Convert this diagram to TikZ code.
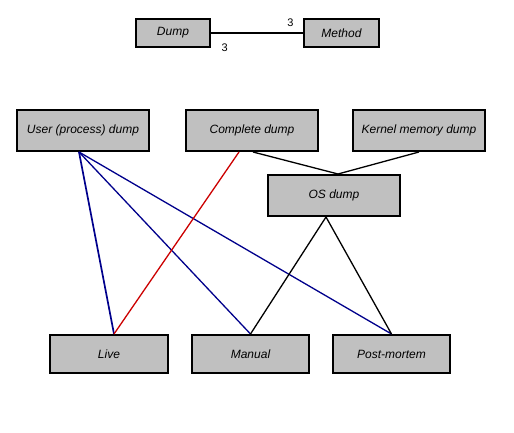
\documentclass[tikz,border=0pt]{standalone}
\usepackage{fontspec}
\setmainfont{Liberation Sans}
\usepackage{tikz}
\usetikzlibrary{positioning}

\definecolor{cajagris}{RGB}{192,192,192}
\definecolor{azulosc}{RGB}{0,0,140}
\definecolor{rojolin}{RGB}{204,0,0}

\tikzset{
  caja/.style={draw, rectangle, fill=cajagris, line width=2pt, inner sep=0pt,
    font=\fontsize{12}{14}\selectfont\itshape},
  linea/.style={line width=1.3pt},
}

\begin{document}
\begin{tikzpicture}[x=1pt, y=-1pt]
    % Fondo y margenes
    \fill[white] (0,0) rectangle (514,433);
    \useasboundingbox (0,0) rectangle (514,433);

    % Relacion Dump - Method
    \node (dump) [caja, minimum width=74pt, minimum height=28pt] at (173,33) {Dump};
    \node (method) [caja, minimum width=75pt, minimum height=28pt] at (341.5,33) {Method};
    \draw[linea] (dump) -- (method);
    \node (mult1) [below right=7pt and 7pt of dump.east, font=\fontsize{11}{12}\selectfont] {3};
    \node (mult2) [above left=3pt and 6pt of method.west, font=\fontsize{11}{12}\selectfont] {3};

    % Tipos de volcado
    \node (user) [caja, minimum width=132pt, minimum height=41pt] at (83,130.5) {User (process) dump};
    \node (complete) [caja, minimum width=132pt, minimum height=41pt] at (252,130.5) {Complete dump};
    \node (kernel) [caja, minimum width=132pt, minimum height=41pt] at (419,130.5) {Kernel memory dump};
    \node (osdump) [caja, minimum width=132pt, minimum height=41pt] at (334,195.5) {OS dump};

    % Metodos
    \node (live) [caja, minimum width=118pt, minimum height=38pt] at (109,354) {Live};
    \node (manual) [caja, minimum width=117pt, minimum height=38pt] at (250.5,354) {Manual};
    \node (postmortem) [caja, minimum width=117pt, minimum height=38pt] at (391.5,354) {Post-mortem};

    % Conexiones en azul
    \draw[linea, azulosc, line width=1.7pt] ([xshift=-4pt]user.south) -- ([xshift=5pt]live.north);
    \draw[linea, azulosc] ([xshift=-4pt]user.south) -- (manual.north);
    \draw[linea, azulosc] ([xshift=-4pt]user.south) -- (postmortem.north);

    % Conexion en rojo
    \draw[linea, rojolin] ([xshift=-13pt]complete.south) -- ([xshift=5pt]live.north);

    % Conexiones en negro
    \draw[linea] ([xshift=1pt]complete.south) -- ([xshift=4pt]osdump.north);
    \draw[linea] (kernel.south) -- ([xshift=4pt]osdump.north);
    \draw[linea] ([xshift=-8pt]osdump.south) -- (manual.north);
    \draw[linea] ([xshift=-8pt]osdump.south) -- (postmortem.north);
\end{tikzpicture}
\end{document}
